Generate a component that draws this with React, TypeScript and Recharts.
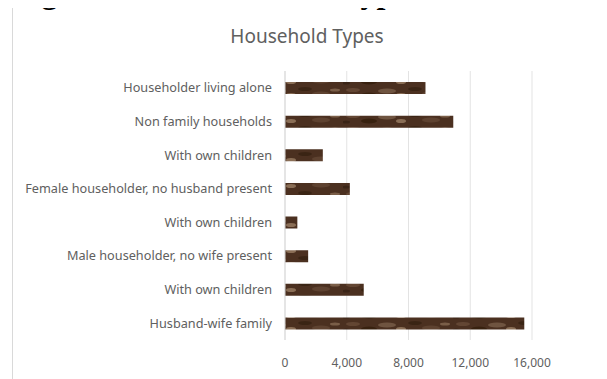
import { BarChart, Bar, XAxis, YAxis, CartesianGrid } from 'recharts';

// categories top to bottom, as in the figure
const categories = [
  'Householder living alone',
  'Non family households',
  'With own children',
  'Female householder, no husband present',
  'With own children',
  'Male householder, no wife present',
  'With own children',
  'Husband-wife family',
];

const households = [9100, 10900, 2450, 4200, 800, 1500, 5100, 15500];

const xTicks = [0, 4000, 8000, 12000, 16000];

const FONT = '"Noto Sans", "Open Sans", sans-serif';
const GREY = '#606060';

export default function App() {
  // index keys: three categories share the same label
  const data = categories.map((name, i) => ({ key: i, name, value: households[i] }));

  return (
    <div style={{ position: 'relative', width: 607, height: 379, marginTop: -8, marginLeft: -8, overflow: 'hidden', background: '#fff' }}>
      {/* mottled brown texture used by the bars */}
      <svg width={0} height={0} style={{ position: 'absolute' }}>
        <defs>
          <pattern id="woodTex" patternUnits="userSpaceOnUse" width={110} height={13}>
            <rect width={110} height={13} fill="#4b3020" />
            <ellipse cx={10} cy={4} rx={7} ry={2} fill="#634633" />
            <ellipse cx={26} cy={9} rx={8} ry={2.5} fill="#38210f" />
            <ellipse cx={44} cy={5} rx={9} ry={2.5} fill="#6f5440" />
            <ellipse cx={58} cy={9} rx={5} ry={2} fill="#8a6e56" />
            <ellipse cx={72} cy={3} rx={7} ry={2} fill="#3a2414" />
            <ellipse cx={88} cy={8} rx={9} ry={2.5} fill="#5e4230" />
            <ellipse cx={102} cy={4} rx={5} ry={1.5} fill="#7a5e48" />
            <ellipse cx={3} cy={10} rx={4} ry={1.5} fill="#3a2416" />
          </pattern>
        </defs>
      </svg>

      <div
        style={{
          position: 'absolute',
          left: 12,
          top: 7,
          width: 591,
          height: 390,
          boxSizing: 'border-box',
          border: '1px solid #d9d9d9',
          background: '#fff',
        }}
      >
        <BarChart
          width={589}
          height={388}
          data={data}
          layout="vertical"
          margin={{ top: 63, right: 70, bottom: 26, left: 0 }}
        >
          <CartesianGrid horizontal={false} stroke="#e3e3e3" />
          <XAxis
            type="number"
            domain={[0, 16000]}
            ticks={xTicks}
            axisLine={false}
            tickLine={false}
            tickMargin={12}
            height={30}
            tick={{ fontSize: 12, fill: GREY, fontFamily: FONT }}
            tickFormatter={(v: number) => v.toLocaleString('en-US')}
          />
          <YAxis
            type="category"
            dataKey="key"
            width={272}
            axisLine={{ stroke: '#d9d9d9' }}
            tickLine={false}
            tickMargin={7}
            interval={0}
            tick={{ fontSize: 12.7, fill: GREY, fontFamily: FONT }}
            tickFormatter={(i: number) => categories[i]}
          />
          <Bar dataKey="value" fill="url(#woodTex)" barSize={12} isAnimationActive={false} />
        </BarChart>
      </div>

      <svg width={607} height={60} style={{ position: 'absolute', left: 0, top: 0, pointerEvents: 'none' }}>
        <text x={13} y={3} fontFamily='"Liberation Serif", serif' fontWeight="bold" fontSize={32} fill="#000">
          Figure 4-12: Household Type
        </text>
        <text x={307} y={43} textAnchor="middle" fontFamily={FONT} fontSize={19} fill={GREY}>
          Household Types
        </text>
      </svg>
    </div>
  );
}
